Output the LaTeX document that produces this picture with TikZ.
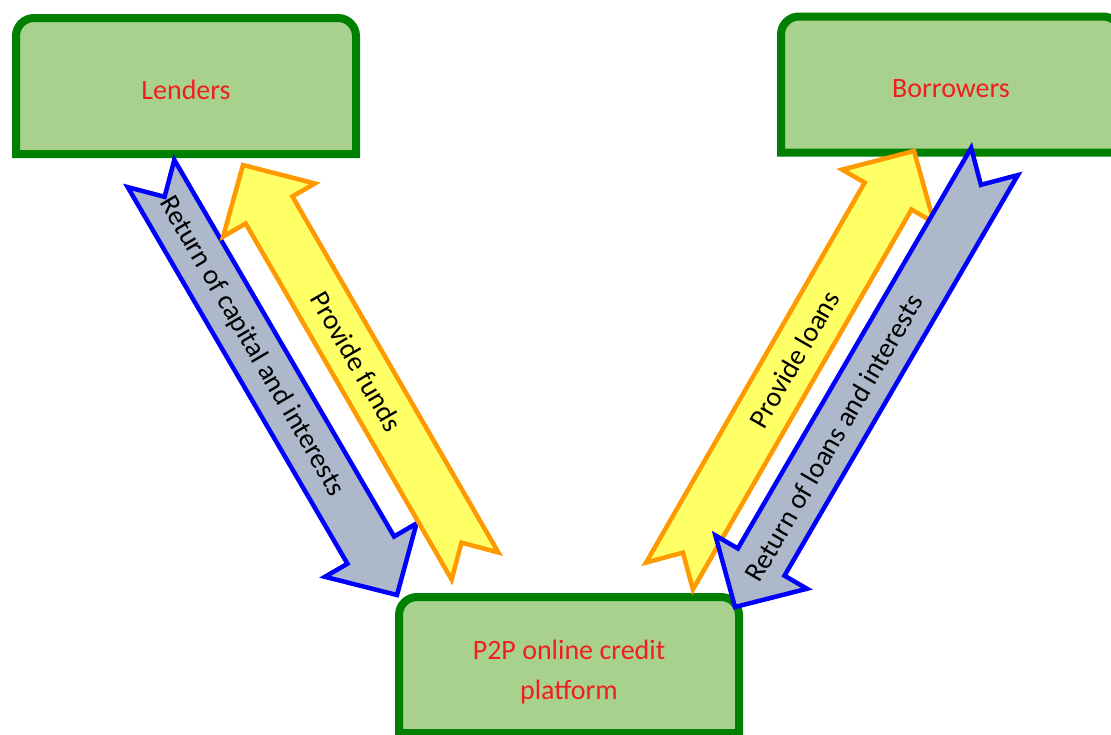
\documentclass[tikz,border=0pt]{standalone}
\usepackage{fontspec}
\setmainfont{Carlito}
\usetikzlibrary{calc,backgrounds}

\definecolor{boxgreen}{HTML}{A9D18E}
\definecolor{edgegreen}{HTML}{008000}
\definecolor{labelred}{HTML}{F01E1E}
\definecolor{flowgray}{HTML}{ADB9CA}
\definecolor{flowyellow}{HTML}{FFFF66}
\definecolor{floworange}{HTML}{FF9900}

% box with rounded top corners round a label node, drawn behind it
\newcommand{\roundtop}[2]{%
  \begin{pgfonlayer}{background}
  \draw[boxline] ($(#1)+(-170,#2-68)$) -- ($(#1)+(-170,#2+50)$)
    arc[start angle=180,end angle=90,radius=18pt] -- ($(#1)+(152,#2+68)$)
    arc[start angle=90,end angle=0,radius=18pt] -- ($(#1)+(170,#2-68)$) -- cycle;
  \end{pgfonlayer}}

% notched block arrow: style, tail, tip, label pos, label
\newcommand{\notcharrow}[5]{%
  \coordinate (hb) at ($(#3)!52pt!(#2)$);
  \draw[#1] ($(#2)!27pt!90:(#3)$) -- ($(hb)!27pt!90:(#3)$) -- ($(hb)!53pt!90:(#3)$)
    -- (#3) -- ($(hb)!53pt!-90:(#3)$) -- ($(hb)!27pt!-90:(#3)$)
    -- ($(#2)!27pt!-90:(#3)$) -- ($(#2)!27pt!(#3)$) -- cycle;
  \path (#2) -- node[sloped,pos=#4,flowtext] {#5} (#3);}

\begin{document}
\begin{tikzpicture}[x=1pt,y=1pt,
  box/.style={inner sep=0pt,text=labelred,align=center,font=\fontsize{28}{40}\selectfont},
  boxline/.style={draw=edgegreen,fill=boxgreen,line width=8pt},
  bluearrow/.style={draw=blue,fill=flowgray,line width=4.5pt},
  yellowarrow/.style={draw=floworange,fill=flowyellow,line width=4.5pt},
  flowtext/.style={text=black,inner sep=0pt,font=\fontsize{28}{34}\selectfont}]
\useasboundingbox (0,0) rectangle (1111,-734);

\node[box] (lenders) at (186,-90) {Lenders};
\node[box] (borrowers) at (951,-89) {Borrowers};
\node[box] (platform) at (569,-672) {P2P online credit\\platform};
\roundtop{lenders}{4}
\roundtop{borrowers}{4.5}
\roundtop{platform}{7}

\coordinate (capital-tail) at (151,-173.5);
\coordinate (capital-tip) at (397,-595);
\coordinate (funds-tail) at (475,-566);
\coordinate (funds-tip) at (243,-165);
\coordinate (loans-tail) at (669.5,-576);
\coordinate (loans-tip) at (914,-151);
\coordinate (repay-tail) at (994.5,-161.5);
\coordinate (repay-tip) at (735,-607);

\notcharrow{bluearrow}{capital-tail}{capital-tip}{0.41}{Return of capital and interests}
\notcharrow{yellowarrow}{funds-tail}{funds-tip}{0.51}{Provide funds}
\notcharrow{yellowarrow}{loans-tail}{loans-tip}{0.51}{Provide loans}
\notcharrow{bluearrow}{repay-tail}{repay-tip}{0.62}{Return of loans and interests}
\end{tikzpicture}
\end{document}
